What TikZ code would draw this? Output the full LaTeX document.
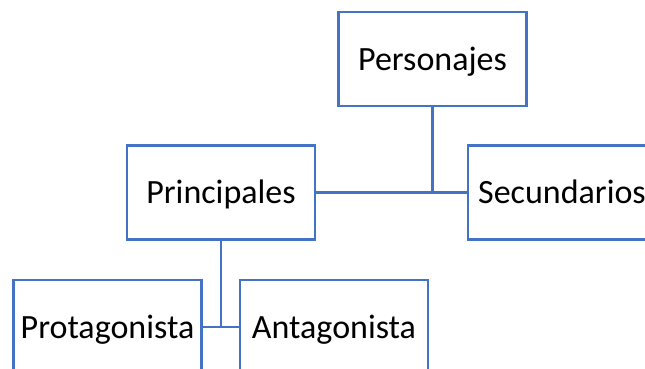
\documentclass[tikz,border=0pt]{standalone}
\usepackage{fontspec}
\setmainfont{Carlito}
\definecolor{boxblue}{HTML}{4472C4}
\begin{document}
\begin{tikzpicture}[x=1pt,y=1pt,
  orgbox/.style={draw=boxblue, line width=2.6pt, fill=white, minimum width=188pt, minimum height=94pt,
    inner sep=0pt, text height=22.7pt, text depth=0pt, font=\fontsize{34}{40}\selectfont},
  link/.style={draw=boxblue, line width=2.6pt}]
\useasboundingbox (0,0) rectangle (645,368);
\clip (0,0) rectangle (645,368);
\node[orgbox] (pers) at (432.5,309) {Personajes};
\node[orgbox] (prin) at (221,175.5) {Principales};
\node[orgbox] (secu) at (562,175.5) {Secundarios};
\node[orgbox] (prot) at (107.5,41) {Protagonista};
\node[orgbox] (anta) at (334,41) {Antagonista};
\draw[link] (pers.south) -- (pers.south |- prin.east);
\draw[link] (prin.east) -- (secu.west);
\draw[link] (prin.south) -- (prin.south |- prot.east);
\draw[link] (prot.east) -- (anta.west);
\end{tikzpicture}
\end{document}
